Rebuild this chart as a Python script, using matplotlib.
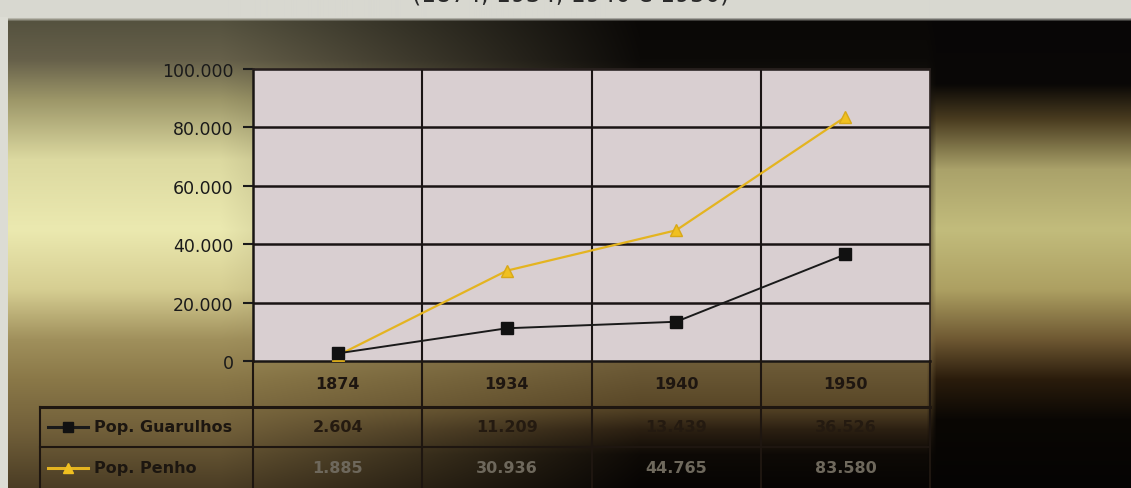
import numpy as np
import matplotlib.pyplot as plt
from matplotlib.lines import Line2D

# dados
anos = ["1874", "1934", "1940", "1950"]
pop_guarulhos = [2604, 11209, 13439, 36526]
pop_penha = [1885, 30936, 44765, 83580]
nomes = ["Pop. Guarulhos", "Pop. Penho"]
y_ticks = [0, 20000, 40000, 60000, 80000, 100000]


def fmt(v):
    return f"{v:,}".replace(",", ".")


def hex2rgb(h):
    h = h.lstrip("#")
    return np.array([int(h[i:i + 2], 16) / 255 for i in (0, 2, 4)])


def profile(stops, n):
    # stops: list of (y, hex color)
    ys = np.array([s[0] for s in stops], float)
    cols = np.array([hex2rgb(s[1]) for s in stops])
    y = np.arange(n)
    return np.stack([np.interp(y, ys, cols[:, c]) for c in range(3)], axis=1)


W, H = 1131, 489

# --- fundo (foto de slide) ---
left = profile([(0, "#d8d8d0"), (18, "#d8d8d0"), (22, "#55523f"), (60, "#66604a"),
                (100, "#9c9668"), (160, "#dcd9a0"), (230, "#ebe9b0"), (290, "#d6ce92"),
                (340, "#a0905c"), (380, "#8a7848"), (430, "#72603a"), (489, "#4a3c24")], H)
mid = profile([(0, "#d8d8d0"), (18, "#d8d8d0"), (22, "#0a0806"), (60, "#0c0a08"),
               (340, "#7a6840"), (362, "#6e5c38"), (405, "#5a4828"), (430, "#2c2012"),
               (455, "#0e0a06"), (489, "#060403")], H)
right = profile([(0, "#d8d8d0"), (18, "#d8d8d0"), (22, "#080606"), (85, "#0a0806"),
                 (120, "#4a3c20"), (170, "#aaa26a"), (230, "#c2bc7c"), (290, "#ada062"),
                 (340, "#6e5832"), (380, "#2a1c0c"), (420, "#0a0704"), (489, "#050403")], H)
x = np.arange(W)
w1 = np.clip((x - 220) / 420.0, 0, 1)
w2 = np.clip((x - 926) / 10.0, 0, 1)
img = ((1 - w1)[None, :, None] * left[:, None, :] + w1[None, :, None] * mid[:, None, :])
img = (1 - w2)[None, :, None] * img + w2[None, :, None] * right[:, None, :]
img[18:, :8] = hex2rgb("#dcdcd4")

fig = plt.figure(figsize=(11.31, 4.89), dpi=100)
bg = fig.add_axes([0, 0, 1, 1], zorder=-1)
bg.imshow(img, aspect="auto", extent=[0, W, H, 0], interpolation="bilinear")
bg.axis("off")

fig.text(0.505, 1.012, "(1874, 1934, 1940 e 1950)", ha="center", va="center",
         fontsize=17, color="#2a2a2a")

# --- grafico ---
ax = fig.add_axes([253 / W, (H - 362) / H, (930 - 253) / W, (362 - 70) / H])
ax.set_facecolor("#d9cfd1")
xs = np.arange(len(anos))
ax.set_xlim(-0.5, len(anos) - 0.5)
ax.set_ylim(0, 100000)

for yv in y_ticks[1:]:
    ax.axhline(yv, color="#1a1414", lw=1.8, zorder=1)
for i in range(1, len(anos)):
    ax.axvline(i - 0.5, color="#1a1414", lw=1.5, zorder=1)

ax.plot(xs, pop_penha, color="#e4b420", lw=1.6, marker="^", ms=8,
        markerfacecolor="#f0c020", markeredgecolor="#d8a818", zorder=3)
ax.plot(xs, pop_guarulhos, color="#1a1a1a", lw=1.4, marker="s", ms=8,
        markerfacecolor="#111111", markeredgecolor="#111111", zorder=4)

ax.set_yticks(y_ticks)
ax.set_yticklabels([fmt(v) for v in y_ticks], fontsize=12.5, color="#1a1a1a")
ax.tick_params(axis="y", direction="out", length=7, width=1.5, pad=7, color="#1a1a1a")
ax.set_xticks([])
for s in ["left", "bottom"]:
    ax.spines[s].set_linewidth(1.8)
    ax.spines[s].set_color("#1a1614")
for s in ["top", "right"]:
    ax.spines[s].set_linewidth(1.2)
    ax.spines[s].set_color("#2a2220")

# --- tabela de dados (estilo Excel) ---
leg_x = -(253 - 40) / (930 - 253)
row_edges = [0, -46 / 292, -86 / 292, -127 / 292]
col_edges = [i / len(anos) for i in range(len(anos) + 1)]
lc = "#1e1610"

def tline(x0, x1, y0, y1, lw=1.5):
    ax.add_line(Line2D([x0, x1], [y0, y1], transform=ax.transAxes, color=lc,
                       lw=lw, clip_on=False, zorder=5))

for cx in col_edges:
    tline(cx, cx, row_edges[0], row_edges[3])
tline(leg_x, leg_x, row_edges[1], row_edges[3])
tline(leg_x, 1, row_edges[1], row_edges[1], lw=2.2)
tline(leg_x, 1, row_edges[2], row_edges[2], lw=1.5)

def ccol(i):
    return (col_edges[i] + col_edges[i + 1]) / 2

hy = (row_edges[0] + row_edges[1]) / 2
for i, a in enumerate(anos):
    ax.text(ccol(i), hy, a, transform=ax.transAxes, ha="center", va="center",
            fontsize=11.5, fontweight="bold", color="#1e1610")

series = [pop_guarulhos, pop_penha]
mk = [("s", "#1a1a1a", "#111111"), ("^", "#e4b420", "#f0c020")]
txt_cols = ["#241a10", "#6e685c"]
for r, (nome, vals) in enumerate(zip(nomes, series)):
    ry = (row_edges[r + 1] + row_edges[r + 2]) / 2
    key_x0 = leg_x + 8 / 677
    key_x1 = leg_x + 48 / 677
    ax.add_line(Line2D([key_x0, key_x1], [ry, ry], transform=ax.transAxes,
                       color=mk[r][1], lw=2.2, clip_on=False, zorder=6))
    ax.add_line(Line2D([(key_x0 + key_x1) / 2], [ry], transform=ax.transAxes,
                       marker=mk[r][0], ms=7.5, color=mk[r][2], clip_on=False, zorder=7))
    ax.text(key_x1 + 6 / 677, ry, nome, transform=ax.transAxes, ha="left", va="center",
            fontsize=11.5, fontweight="bold", color="#1c1610")
    for i, v in enumerate(vals):
        ax.text(ccol(i), ry, fmt(v), transform=ax.transAxes, ha="center", va="center",
                fontsize=11.5, fontweight="bold", color=txt_cols[r])

fig.savefig("out.png", dpi=100)
